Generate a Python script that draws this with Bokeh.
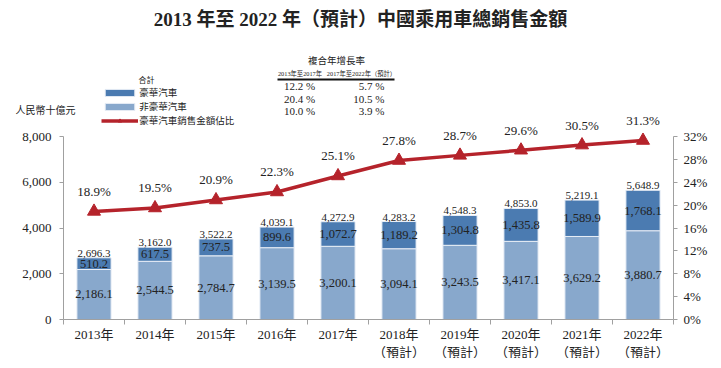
from bokeh.plotting import figure
from bokeh.models import (ColumnDataSource, Range1d, LinearAxis, FixedTicker,
                          NumeralTickFormatter, PrintfTickFormatter, LabelSet,
                          Label, Legend, LegendItem, BoxAnnotation)
from bokeh.embed import file_html
from bokeh.resources import INLINE

years = ["2013年", "2014年", "2015年", "2016年", "2017年",
         "2018年\n（預計）", "2019年\n（預計）", "2020年\n（預計）",
         "2021年\n（預計）", "2022年\n（預計）"]
non_luxury = [2186.1, 2544.5, 2784.7, 3139.5, 3200.1, 3094.1, 3243.5, 3417.1, 3629.2, 3880.7]
luxury = [510.2, 617.5, 737.5, 899.6, 1072.7, 1189.2, 1304.8, 1435.8, 1589.9, 1768.1]
total = [2696.3, 3162.0, 3522.2, 4039.1, 4272.9, 4283.2, 4548.3, 4853.0, 5219.1, 5648.9]
share = [18.9, 19.5, 20.9, 22.3, 25.1, 27.8, 28.7, 29.6, 30.5, 31.3]

cagr_periods = ["2013年至2017年", "2017年至2022年（預計）"]
cagr_total = ["12.2 %", "5.7 %"]
cagr_luxury = ["20.4 %", "10.5 %"]
cagr_non_luxury = ["10.0 %", "3.9 %"]

FONT = "'Liberation Serif', 'Noto Sans CJK TC'"
DARK = "#4b7bb1"
LIGHT = "#88a8cc"
RED = "#b5232b"
TXT = "#222222"
AXC = "#a0a0a0"

# page geometry (pixels) of the figure and of the chart's axes
W, H = 713, 358
PX0, PY0 = 0, 1                  # figure's top-left on the photographed page
AX_L, AX_R = 63, 673             # x positions of left / right value axes
AX_TOP, AX_BOT = 137, 320        # y positions of max / zero
N = len(years)
YMAX, PMAX = 8000, 32

ppx = (AX_R - AX_L) / N          # px per category
ppy = (AX_BOT - AX_TOP) / YMAX   # px per unit
x0 = -0.5 - (AX_L - PX0) / ppx
x1 = -0.5 + (PX0 + W - AX_L) / ppx
y0 = -(PY0 + H - AX_BOT) / ppy
y1 = YMAX + (AX_TOP - PY0) / ppy
k = YMAX / PMAX

idx = list(range(N))
src = ColumnDataSource(dict(
    x=idx, non=non_luxury, lux=luxury, total=total, share=share,
    lux_top=[a + b for a, b in zip(non_luxury, luxury)],
    non_mid=[a / 2 for a in non_luxury],
    lux_mid=[a + b / 2 for a, b in zip(non_luxury, luxury)],
    non_lbl=[f"{v:,.1f}" for v in non_luxury],
    lux_lbl=[f"{v:,.1f}" for v in luxury],
    tot_lbl=[f"{v:,.1f}" for v in total],
    share_lbl=[f"{v:.1f}%" for v in share],
))

p = figure(width=W, height=H, output_backend="svg", toolbar_location=None,
           x_range=Range1d(x0, x1), y_range=Range1d(y0, y1),
           min_border=0, x_axis_location=None, y_axis_location=None)
p.outline_line_color = None
p.grid.visible = False
p.extra_y_ranges = {"pct": Range1d(y0 / k, y1 / k)}

# bars
r_non = p.vbar(x="x", bottom=0, top="non", width=0.56, source=src,
               fill_color=LIGHT, line_color="#e8eef6", line_width=1)
r_lux = p.vbar(x="x", bottom="non", top="lux_top", width=0.56, source=src,
               fill_color=DARK, line_color="#e8eef6", line_width=1)

# line
r_line = p.line(x="x", y="share", source=src, y_range_name="pct",
                line_color=RED, line_width=3.5)
r_mark = p.scatter(x="x", y="share", source=src, y_range_name="pct",
                   marker="triangle", size=13, fill_color=RED, line_color=RED)

# axes
ax = LinearAxis(fixed_location=0, bounds=(-0.5, N - 0.5),
                ticker=FixedTicker(ticks=idx, minor_ticks=[i - 0.5 for i in range(N + 1)]))
ax.major_label_overrides = {i: y for i, y in enumerate(years)}
ax.major_tick_line_color = None
ax.minor_tick_line_color = AXC
ax.minor_tick_out = 5
ax.minor_tick_in = 0
ax.axis_line_color = AXC
ax.major_label_text_font = FONT
ax.major_label_text_font_size = "13px"
ax.major_label_text_color = TXT
ax.major_label_standoff = 1
p.add_layout(ax, "below")

ly = LinearAxis(fixed_location=-0.5, bounds=(0, YMAX),
                ticker=FixedTicker(ticks=[0, 2000, 4000, 6000, 8000]),
                formatter=NumeralTickFormatter(format="0,0"))
ly.axis_line_color = AXC
ly.major_tick_line_color = AXC
ly.major_tick_out = 4
ly.major_tick_in = 0
ly.minor_tick_line_color = None
ly.major_label_text_font = FONT
ly.major_label_text_font_size = "13px"
ly.major_label_text_color = TXT
ly.major_label_standoff = 8
p.add_layout(ly, "left")

ry = LinearAxis(y_range_name="pct", fixed_location=N - 0.5, bounds=(0, PMAX),
                ticker=FixedTicker(ticks=list(range(0, PMAX + 1, 4))),
                formatter=PrintfTickFormatter(format="%d%%"))
ry.axis_line_color = AXC
ry.major_tick_line_color = AXC
ry.major_tick_out = 4
ry.major_tick_in = 0
ry.minor_tick_line_color = None
ry.major_label_text_font = FONT
ry.major_label_text_font_size = "13px"
ry.major_label_text_color = TXT
ry.major_label_standoff = 6
p.add_layout(ry, "right")

# value labels
common = dict(source=src, text_font=FONT, text_color=TXT, text_align="center")
p.add_layout(LabelSet(x="x", y="non_mid", text="non_lbl", text_font_size="12.5px",
                      text_baseline="middle", **common))
p.add_layout(LabelSet(x="x", y="lux_mid", text="lux_lbl", text_font_size="12.5px",
                      text_baseline="middle", **common))
p.add_layout(LabelSet(x="x", y="total", text="tot_lbl", text_font_size="11px",
                      text_baseline="alphabetic", y_offset=1, **common))
p.add_layout(LabelSet(x="x", y="share", y_range_name="pct", text="share_lbl",
                      text_font_size="13px", text_baseline="middle", y_offset=20, **common))


def sx(px):
    return px - PX0


def sy(py):
    return PY0 + H - py


# legend
legend = Legend(items=[
    LegendItem(label="豪華汽車", renderers=[r_lux]),
    LegendItem(label="非豪華汽車", renderers=[r_non]),
    LegendItem(label="豪華汽車銷售金額佔比", renderers=[r_line, r_mark]),
], location=(sx(101.3), sy(128)), padding=0, margin=0, spacing=-2, glyph_width=37,
    glyph_height=9, label_height=9, label_standoff=1, border_line_color=None,
    background_fill_alpha=0, label_text_font=FONT, label_text_font_size="9.5px",
    label_text_color=TXT)
p.add_layout(legend, "center")


def lab(text, x, y, size, align="left", style="normal"):
    p.add_layout(Label(x=sx(x), y=sy(y), x_units="screen", y_units="screen",
                       text=text, text_font=FONT, text_font_size=size,
                       text_color=TXT, text_align=align, text_baseline="middle",
                       text_font_style=style))


lab("2013 年至 2022 年（預計）中國乘用車總銷售金額", 360, 20, "19px", "center", "bold")
lab("人民幣十億元", 15, 111, "10px")
lab("合計", 138, 81, "8px")
lab("複合年增長率", 336, 61, "9.5px", "center")
lab(cagr_periods[0], 299.5, 74, "6.3px", "center")
lab(cagr_periods[1], 361, 74, "6.3px", "center")
rows_y = [86, 99, 111]
for vals, yy in zip([cagr_total, cagr_luxury, cagr_non_luxury], rows_y):
    lab(vals[0], 299, yy, "11px", "center")
    lab(vals[1], 384, yy, "11px", "right")

# table rule
p.add_layout(BoxAnnotation(left=sx(277), right=sx(394), top=sy(79), bottom=sy(81),
                           left_units="screen", right_units="screen",
                           top_units="screen", bottom_units="screen",
                           fill_color="#111111", fill_alpha=1, line_color=None))

open("out.html", "w").write(file_html(p, INLINE))
